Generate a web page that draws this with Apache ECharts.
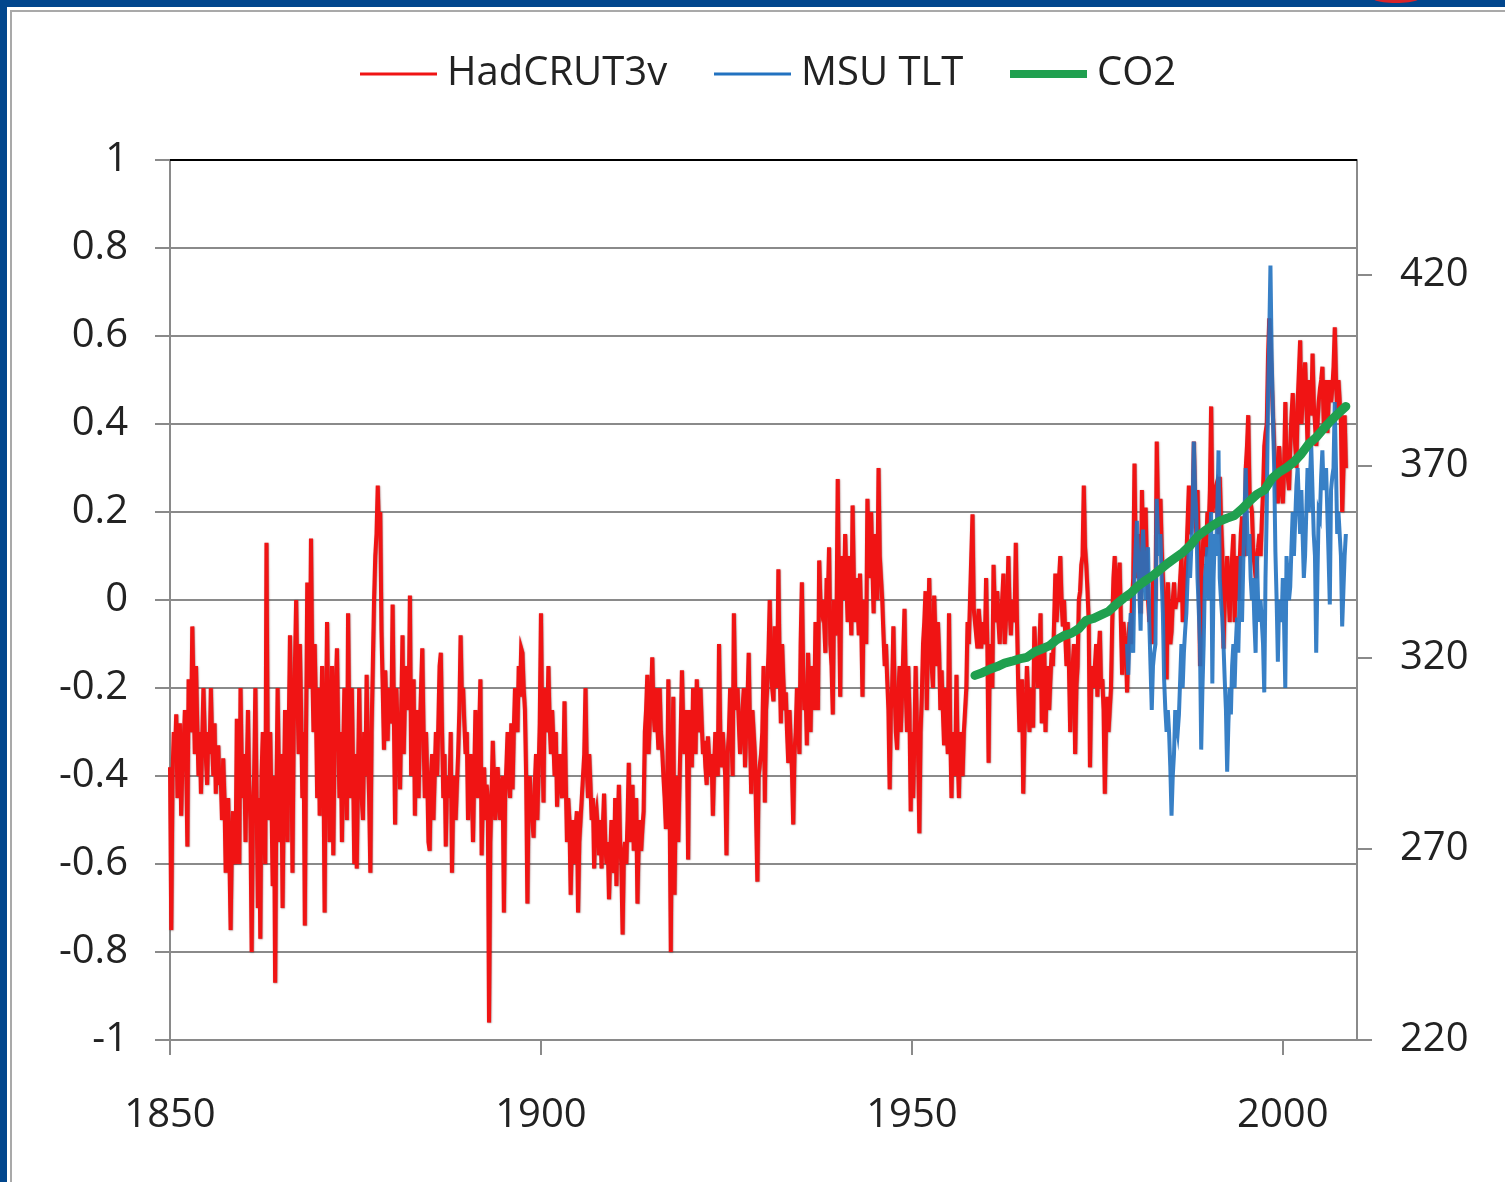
<!DOCTYPE html>
<html><head><meta charset="utf-8">
<script src="https://cdn.jsdelivr.net/npm/echarts@6/dist/echarts.min.js"></script>
<style>html,body{margin:0;padding:0;background:#fff;}#c{width:1505px;height:1182px;}</style>
</head><body><div id="c"></div>
<script>
// HadCRUT3v anomaly, 6 readings per year starting 1850.0
const hadStartYear = 1850;
const hadPerYear = 6;
const hadcrut = [
-0.38,-0.75,-0.40,-0.30,-0.35,-0.26, -0.45,-0.32,-0.28,-0.49,-0.38,-0.33, -0.25,-0.35,-0.56,-0.18,-0.28,-0.30, -0.06,-0.20,-0.35,-0.15,-0.28,-0.40, -0.30,-0.44,-0.32,-0.20,-0.30,-0.36,
-0.42,-0.30,-0.35,-0.20,-0.32,-0.40, -0.28,-0.44,-0.35,-0.33,-0.42,-0.40, -0.50,-0.36,-0.45,-0.62,-0.50,-0.45, -0.58,-0.75,-0.55,-0.48,-0.58,-0.60, -0.27,-0.45,-0.60,-0.20,-0.38,-0.45,
-0.35,-0.55,-0.40,-0.25,-0.42,-0.50, -0.80,-0.50,-0.40,-0.20,-0.45,-0.70, -0.45,-0.77,-0.40,-0.30,-0.50,-0.60, 0.13,-0.35,-0.50,-0.30,-0.45,-0.65, -0.40,-0.87,-0.45,-0.20,-0.40,-0.55,
-0.35,-0.70,-0.45,-0.25,-0.40,-0.55, -0.30,-0.08,-0.25,-0.62,-0.30,-0.15, 0.00,-0.20,-0.35,-0.10,-0.25,-0.45, -0.30,-0.74,-0.30,0.04,-0.15,-0.20, 0.14,-0.15,-0.30,-0.10,-0.25,-0.45,
-0.20,-0.49,-0.30,-0.15,-0.35,-0.71, -0.30,-0.05,-0.30,-0.55,-0.30,-0.15, -0.58,-0.35,-0.20,-0.11,-0.30,-0.45, -0.30,-0.55,-0.35,-0.20,-0.38,-0.50, -0.03,-0.30,-0.45,-0.20,-0.38,-0.60,
-0.35,-0.61,-0.40,-0.20,-0.38,-0.45, -0.50,-0.30,-0.40,-0.17,-0.35,-0.45, -0.62,-0.30,-0.15,0.00,0.10,0.15, 0.26,0.15,0.20,-0.07,-0.20,-0.34, -0.16,-0.25,-0.32,-0.20,-0.25,-0.28,
-0.01,-0.25,-0.51,-0.20,-0.28,-0.30, -0.43,-0.25,-0.08,-0.35,-0.22,-0.15, -0.20,-0.25,0.01,-0.40,-0.25,-0.18, -0.49,-0.30,-0.25,-0.45,-0.30,-0.20, -0.11,-0.30,-0.45,-0.30,-0.40,-0.55,
-0.57,-0.40,-0.35,-0.50,-0.40,-0.30, -0.40,-0.28,-0.15,-0.12,-0.30,-0.45, -0.35,-0.56,-0.42,-0.40,-0.45,-0.30, -0.62,-0.45,-0.40,-0.50,-0.42,-0.35, -0.25,-0.08,-0.22,-0.20,-0.28,-0.35,
-0.30,-0.50,-0.38,-0.35,-0.42,-0.55, -0.40,-0.25,-0.38,-0.45,-0.30,-0.18, -0.58,-0.45,-0.38,-0.50,-0.42,-0.45, -0.96,-0.55,-0.45,-0.32,-0.42,-0.50, -0.45,-0.38,-0.45,-0.50,-0.42,-0.40,
-0.71,-0.45,-0.38,-0.30,-0.40,-0.45, -0.28,-0.43,-0.30,-0.20,-0.28,-0.30, -0.15,-0.22,-0.11,-0.12,-0.20,-0.25, -0.40,-0.69,-0.45,-0.40,-0.48,-0.50, -0.54,-0.42,-0.35,-0.50,-0.40,-0.28,
-0.03,-0.30,-0.46,-0.20,-0.28,-0.30, -0.15,-0.28,-0.35,-0.25,-0.32,-0.40, -0.30,-0.47,-0.38,-0.35,-0.42,-0.45, -0.40,-0.23,-0.40,-0.55,-0.45,-0.50, -0.67,-0.55,-0.50,-0.60,-0.52,-0.48,
-0.71,-0.55,-0.50,-0.45,-0.40,-0.35, -0.20,-0.38,-0.45,-0.35,-0.42,-0.50, -0.45,-0.61,-0.50,-0.48,-0.52,-0.58, -0.50,-0.61,-0.52,-0.44,-0.55,-0.60, -0.55,-0.68,-0.58,-0.50,-0.56,-0.62,
-0.45,-0.65,-0.52,-0.42,-0.55,-0.60, -0.76,-0.58,-0.55,-0.60,-0.50,-0.37, -0.55,-0.45,-0.42,-0.57,-0.48,-0.45, -0.69,-0.55,-0.50,-0.57,-0.52,-0.48, -0.30,-0.25,-0.17,-0.35,-0.28,-0.22,
-0.13,-0.25,-0.30,-0.20,-0.28,-0.34, -0.20,-0.30,-0.34,-0.40,-0.45,-0.52, -0.45,-0.18,-0.45,-0.80,-0.40,-0.22, -0.67,-0.45,-0.40,-0.55,-0.42,-0.30, -0.16,-0.28,-0.35,-0.25,-0.32,-0.59,
-0.25,-0.32,-0.38,-0.20,-0.28,-0.35, -0.18,-0.26,-0.30,-0.20,-0.28,-0.35, -0.32,-0.38,-0.42,-0.31,-0.36,-0.40, -0.35,-0.49,-0.38,-0.30,-0.36,-0.40, -0.10,-0.30,-0.38,-0.30,-0.35,-0.40,
-0.58,-0.35,-0.30,-0.20,-0.30,-0.40, -0.03,-0.20,-0.25,-0.20,-0.28,-0.35, -0.30,-0.25,-0.20,-0.38,-0.30,-0.23, -0.12,-0.30,-0.44,-0.25,-0.30,-0.35, -0.35,-0.64,-0.40,-0.40,-0.35,-0.30,
-0.15,-0.46,-0.25,-0.20,-0.12,0.00, -0.15,-0.20,-0.23,-0.06,-0.15,-0.20, 0.07,-0.15,-0.28,-0.10,-0.18,-0.25, -0.21,-0.30,-0.37,-0.25,-0.32,-0.39, -0.51,-0.35,-0.30,-0.20,-0.28,-0.35,
-0.10,0.04,-0.15,-0.25,-0.20,-0.33, -0.12,-0.22,-0.30,-0.15,-0.20,-0.25, -0.05,-0.15,-0.25,0.09,0.00,-0.02, 0.00,-0.05,-0.12,0.05,0.00,0.12, -0.10,-0.15,-0.26,0.00,-0.08,-0.05,
0.275,0.00,-0.22,0.10,0.05,0.00, 0.15,0.05,-0.05,0.10,0.02,-0.08, 0.215,0.05,-0.05,0.05,0.00,-0.08, 0.06,-0.05,-0.22,0.00,-0.03,-0.10, 0.23,0.10,0.05,0.20,0.08,-0.03,
0.15,0.05,0.00,0.30,0.10,0.05, 0.00,-0.08,-0.15,-0.10,-0.18,-0.25, -0.43,-0.25,-0.20,-0.06,-0.20,-0.30, -0.34,-0.22,-0.15,-0.30,-0.22,-0.12, -0.02,-0.20,-0.30,-0.15,-0.25,-0.48,
-0.30,-0.45,-0.32,-0.15,-0.28,-0.35, -0.53,-0.30,-0.22,-0.10,-0.05,0.02, -0.25,-0.08,0.05,-0.10,-0.15,-0.20, 0.01,-0.08,-0.15,-0.05,-0.12,-0.25, -0.16,-0.25,-0.33,-0.20,-0.28,-0.35,
-0.03,-0.30,-0.45,-0.30,-0.35,-0.40, -0.17,-0.35,-0.45,-0.30,-0.38,-0.40, -0.30,-0.25,-0.20,-0.05,-0.10,0.00, 0.00,0.195,-0.02,-0.05,-0.08,-0.11, -0.02,-0.06,-0.11,-0.05,-0.08,-0.10,
0.05,-0.10,-0.37,-0.10,-0.15,-0.20, 0.08,-0.02,-0.05,0.02,-0.05,-0.10, -0.03,0.00,0.06,-0.10,-0.05,-0.02, 0.10,-0.02,-0.08,0.00,-0.03,-0.05, 0.13,-0.05,-0.20,-0.30,-0.22,-0.18,
-0.44,-0.30,-0.25,-0.15,-0.22,-0.30, -0.20,-0.25,-0.29,-0.06,-0.12,-0.15, -0.20,-0.12,-0.03,-0.28,-0.15,-0.10, -0.30,-0.20,-0.15,-0.25,-0.18,-0.12, -0.15,-0.05,0.06,-0.05,0.00,0.05,
0.10,0.00,-0.06,0.00,-0.08,-0.15, -0.05,-0.15,-0.30,-0.19,-0.15,-0.10, -0.35,-0.20,-0.15,0.00,0.02,0.08, 0.10,0.26,0.12,0.08,0.02,-0.05, -0.38,-0.20,-0.15,-0.20,-0.15,-0.10,
-0.22,-0.12,-0.07,-0.20,-0.18,-0.25, -0.44,-0.28,-0.22,-0.30,-0.25,-0.20, -0.05,0.05,0.10,0.00,0.02,0.05, 0.085,-0.05,-0.17,-0.05,-0.08,-0.10, -0.21,-0.10,-0.05,-0.10,0.00,0.05,
0.31,0.10,0.05,0.15,0.05,-0.03, 0.25,0.10,0.05,0.21,0.08,0.00, -0.05,-0.02,-0.10,0.05,0.02,0.00, 0.36,0.20,0.15,0.23,0.12,0.05, 0.00,-0.08,-0.18,0.04,-0.03,-0.10,
-0.07,0.00,0.04,-0.02,0.00,0.00, 0.00,0.05,0.10,-0.05,0.02,0.05, 0.10,0.18,0.26,0.15,0.18,0.20, 0.36,0.22,0.15,0.25,0.10,-0.15, 0.05,0.10,0.16,0.10,0.12,0.20,
0.16,0.25,0.44,0.20,0.22,0.25, 0.26,0.20,0.15,0.28,0.18,0.11, -0.11,0.00,0.05,0.10,0.02,-0.05, 0.05,0.10,0.15,-0.05,0.05,0.10, 0.00,0.08,0.15,0.19,0.12,0.10,
0.30,0.35,0.42,0.25,0.22,0.20, 0.11,0.08,0.05,0.10,0.12,0.15, 0.10,0.18,0.25,0.35,0.38,0.40, 0.55,0.64,0.58,0.50,0.42,0.35, 0.30,0.25,0.22,0.35,0.30,0.25,
0.22,0.30,0.45,0.30,0.28,0.25, 0.35,0.42,0.47,0.40,0.35,0.30, 0.45,0.52,0.59,0.40,0.45,0.50, 0.54,0.45,0.35,0.50,0.45,0.42, 0.56,0.45,0.40,0.35,0.40,0.45,
0.48,0.50,0.53,0.40,0.45,0.50, 0.38,0.45,0.50,0.45,0.48,0.53, 0.62,0.50,0.42,0.50,0.45,0.40, 0.20,0.30,0.42,0.30
];
// MSU TLT anomaly, 6 readings per year starting 1979.0
const msuStartYear = 1979;
const msuPerYear = 6;
const msuTlt = [
-0.10,-0.17,-0.08,-0.03,-0.10,-0.12, 0.05,0.12,0.18,0.10,0.02,-0.07, 0.10,0.16,0.08,0.00,0.05,0.12, -0.05,-0.15,-0.25,-0.15,-0.12,-0.10, 0.23,0.15,0.10,0.15,0.05,-0.03,
-0.18,-0.25,-0.30,-0.25,-0.30,-0.38, -0.49,-0.40,-0.35,-0.25,-0.28,-0.30, -0.26,-0.18,-0.10,-0.20,-0.12,-0.07, -0.03,0.05,0.12,0.05,0.12,0.20, 0.36,0.25,0.20,0.05,-0.02,-0.10,
-0.34,-0.20,-0.10,0.05,0.08,0.12, 0.00,0.10,0.20,-0.19,0.05,0.15, 0.10,0.20,0.34,0.05,0.00,-0.04, -0.10,-0.18,-0.25,-0.39,-0.28,-0.20, -0.26,-0.15,-0.10,-0.20,-0.10,-0.04,
-0.12,0.00,0.10,-0.05,0.08,0.19, 0.30,0.18,0.10,0.15,0.05,0.00, 0.05,-0.05,-0.12,0.10,0.00,-0.05, 0.00,-0.05,-0.10,-0.21,0.05,0.20, 0.45,0.60,0.76,0.55,0.42,0.30,
0.11,0.00,-0.14,0.00,-0.02,-0.05, 0.05,-0.05,-0.20,0.10,0.05,0.00, 0.03,0.12,0.20,0.10,0.18,0.26, 0.30,0.22,0.15,0.25,0.15,0.05, 0.10,0.20,0.30,0.20,0.28,0.35,
0.25,0.15,0.10,-0.12,0.05,0.20, 0.19,0.28,0.34,0.25,0.28,0.30, 0.20,0.10,-0.01,0.25,0.28,0.30, 0.45,0.30,0.15,0.20,0.15,0.10, -0.06,0.02,0.10,0.15
];
// CO2 (ppm), annual
const co2Years = [1958,1959,1960,1961,1962,1963,1964,1965,1966,1967,1968,1969,1970,1971,1972,1973,1974,1975,1976,1977,1978,1979,
1980,1981,1982,1983,1984,1985,1986,1987,1988,1989,1990,1991,1992,1993,1994,1995,1996,1997,1998,1999,2000,2001,2002,2003,2004,2005,2006,2007,2008];
const co2 = [315.3,316.0,316.9,317.6,318.5,319.0,319.6,320.0,321.4,322.2,323.0,324.6,325.7,326.3,327.5,329.7,330.2,331.1,332.0,333.8,335.4,336.8,
338.7,340.1,341.4,343.0,344.6,346.0,347.4,349.2,351.6,353.1,354.4,355.6,356.4,357.1,358.8,360.8,362.6,363.7,366.7,368.4,369.6,371.1,373.2,375.8,377.5,379.8,381.9,383.8,385.6];
const xTickYears = [1850, 1900, 1950, 2000];
const rightTicks = [220, 270, 320, 370, 420];
const seriesNames = ['HadCRUT3v', 'MSU TLT', 'CO2'];

const toPairs = (start, perYear, arr) => arr.map((v, i) => [start + i / perYear, v]);
const hadData = toPairs(hadStartYear, hadPerYear, hadcrut);
const msuData = toPairs(msuStartYear, msuPerYear, msuTlt);
const co2Data = co2Years.map((y, i) => [y + 0.5, co2[i]]);

const FONT = '"Open Sans", sans-serif';
const GRAY = '#8a8a8a';
const RED = '#f01414', BLUE = '#2272c0', GREEN = '#20a04f';
const legendText = {fontFamily: FONT, fontSize: 40, color: '#222', lineHeight: 48, padding: [0, 0, 0, 5]};
const mkLegend = (name, left, h) => ({
  left: left, top: 50, padding: 0, itemWidth: 77, itemHeight: h, icon: 'rect',
  data: [name], textStyle: legendText, selectedMode: false
});
const chart = echarts.init(document.getElementById('c'), null, {renderer: 'canvas'});
chart.setOption({
  animation: false,
  backgroundColor: '#ffffff',
  textStyle: {fontFamily: FONT},
  graphic: [
    {type: 'rect', shape: {x: 0, y: 0, width: 1505, height: 7}, style: {fill: '#01468d'}, silent: true},
    {type: 'rect', shape: {x: 0, y: 0, width: 7, height: 1182}, style: {fill: '#01468d'}, silent: true},
    {type: 'ellipse', shape: {cx: 1396, cy: -3, rx: 25, ry: 6}, style: {fill: '#d8232a'}, silent: true},
    {type: 'line', shape: {x1: 10, y1: 11, x2: 1505, y2: 11}, style: {stroke: '#a9a9a9', lineWidth: 2}, silent: true},
    {type: 'line', shape: {x1: 11, y1: 10, x2: 11, y2: 1182}, style: {stroke: '#a9a9a9', lineWidth: 2}, silent: true}
  ],
  legend: [
    mkLegend(seriesNames[0], 360, 3),
    mkLegend(seriesNames[1], 714, 3),
    mkLegend(seriesNames[2], 1010, 8)
  ],
  grid: {left: 170, right: 148, top: 160, bottom: 142, containLabel: false, outerBoundsMode: 'none'},
  xAxis: {
    type: 'value', min: 1850, max: 2010,
    axisLine: {show: true, onZero: false, lineStyle: {color: GRAY, width: 2}},
    axisTick: {show: true, length: 15, lineStyle: {color: GRAY, width: 2}, customValues: xTickYears},
    axisLabel: {fontFamily: FONT, fontSize: 40, color: '#222', margin: 56, lineHeight: 40,
      customValues: xTickYears, formatter: v => String(v)},
    splitLine: {show: false}
  },
  yAxis: [
    {
      type: 'value', min: -1, max: 1, interval: 0.2, position: 'left',
      axisLine: {show: true, lineStyle: {color: GRAY, width: 2}},
      axisTick: {show: true, length: 15, lineStyle: {color: GRAY, width: 2}},
      axisLabel: {fontFamily: FONT, fontSize: 40, color: '#222', margin: 42},
      splitLine: {show: true, lineStyle: {color: GRAY, width: 2}}
    },
    {
      type: 'value', min: 220, max: 450, position: 'right',
      axisLine: {show: true, lineStyle: {color: GRAY, width: 2}},
      axisTick: {show: true, length: 15, lineStyle: {color: GRAY, width: 2}, customValues: rightTicks},
      axisLabel: {fontFamily: FONT, fontSize: 40, color: '#222', margin: 43, customValues: rightTicks},
      splitLine: {show: false}
    }
  ],
  series: [
    {
      name: seriesNames[0], type: 'line', data: hadData, yAxisIndex: 0,
      symbol: 'none', color: RED, sampling: null,
      lineStyle: {color: RED, width: 4, join: 'miter', shadowColor: 'rgba(100,10,10,0.55)', shadowBlur: 1.5, shadowOffsetX: 0.5, shadowOffsetY: 0.5},
      z: 2,
      markLine: {silent: true, symbol: 'none', label: {show: false}, animation: false,
        lineStyle: {color: '#000', width: 2, type: 'solid'}, data: [{yAxis: 1}]}
    },
    {
      name: seriesNames[1], type: 'line', data: msuData, yAxisIndex: 0,
      symbol: 'none', color: BLUE, sampling: null,
      lineStyle: {color: BLUE, width: 4, opacity: 0.9, join: 'miter'},
      z: 3
    },
    {
      name: seriesNames[2], type: 'line', data: co2Data, yAxisIndex: 1,
      symbol: 'none', color: GREEN,
      lineStyle: {color: GREEN, width: 9, cap: 'round', join: 'round'},
      z: 4
    }
  ]
});
</script>
</body></html>
